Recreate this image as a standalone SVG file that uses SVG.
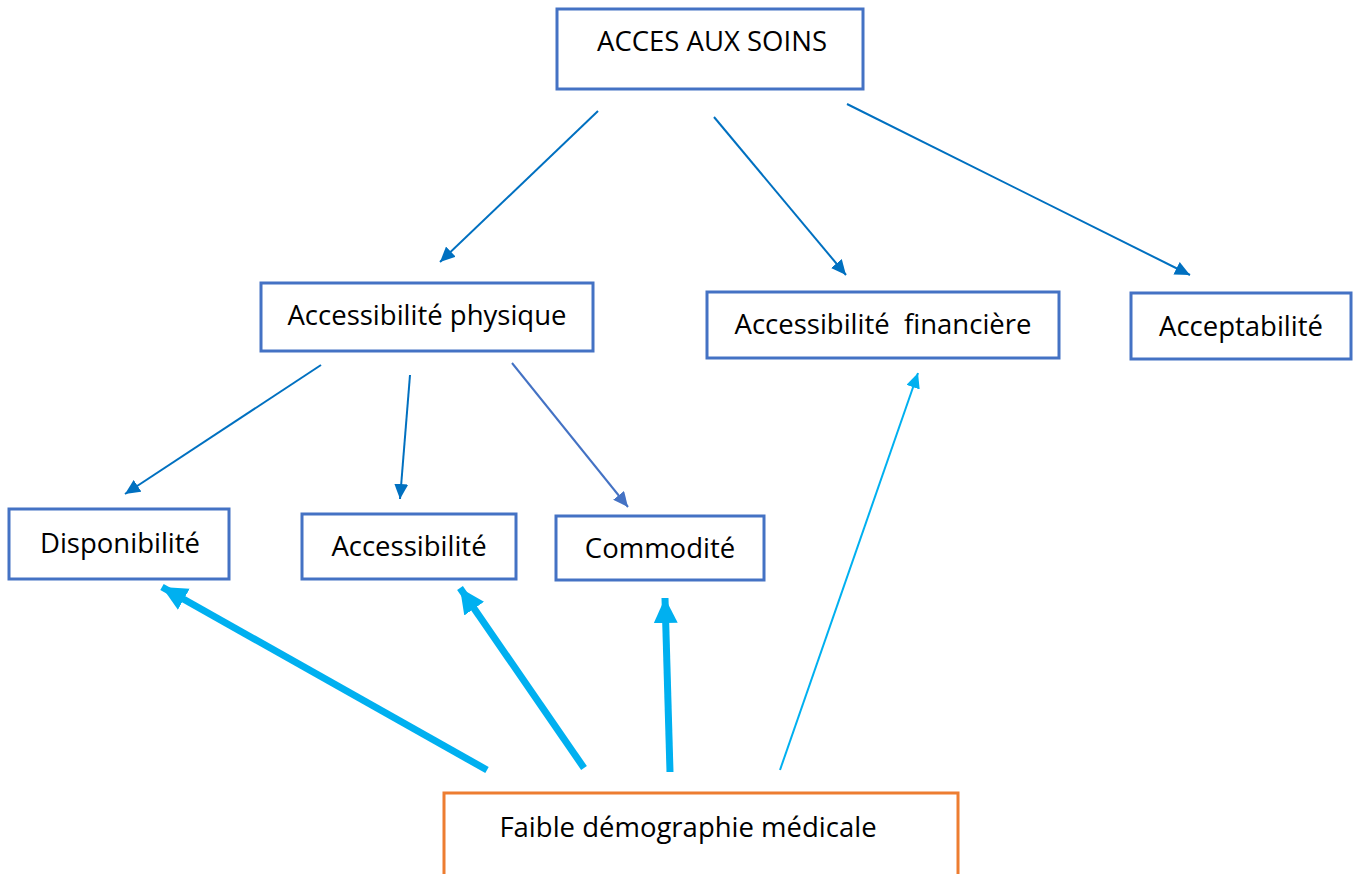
<svg xmlns="http://www.w3.org/2000/svg" width="1353" height="874" viewBox="0 0 1353 874">
<style>
.box{fill:#fff;stroke:#4472C4;stroke-width:3}
.org{fill:#fff;stroke:#ED7D31;stroke-width:3}
.t{font-family:"Open Sans","Liberation Sans",sans-serif;font-size:27.5px;fill:#000;text-anchor:middle}
.dk{stroke:#0070C0;stroke-width:2;fill:none}
.md{stroke:#4472C4;stroke-width:2;fill:none}
.lb{stroke:#00B0F0;fill:none}
</style>
<defs>
<marker id="ad" markerUnits="userSpaceOnUse" markerWidth="16" markerHeight="14" refX="15" refY="7" orient="auto"><path d="M0,0 L15,7 L0,14 z" fill="#0070C0"/></marker>
<marker id="am" markerUnits="userSpaceOnUse" markerWidth="16" markerHeight="14" refX="15" refY="7" orient="auto"><path d="M0,0 L15,7 L0,14 z" fill="#4472C4"/></marker>
<marker id="al" markerUnits="userSpaceOnUse" markerWidth="26" markerHeight="26" refX="25" refY="13" orient="auto"><path d="M0,1 L25,13 L0,25 z" fill="#00B0F0"/></marker>
<marker id="als" markerUnits="userSpaceOnUse" markerWidth="16" markerHeight="14" refX="15" refY="7" orient="auto"><path d="M0,0 L15,7 L0,14 z" fill="#00B0F0"/></marker>
</defs>
<g id="connectors">
<line class="dk" x1="598" y1="111" x2="440" y2="262" marker-end="url(#ad)"/>
<line class="dk" x1="714" y1="117" x2="846" y2="275" marker-end="url(#ad)"/>
<line class="dk" x1="847" y1="104" x2="1190" y2="275" marker-end="url(#ad)"/>
<line class="dk" x1="321" y1="365" x2="125" y2="494" marker-end="url(#ad)"/>
<line class="dk" x1="410" y1="375" x2="400" y2="499" marker-end="url(#ad)"/>
<line class="md" x1="512" y1="363" x2="628" y2="507" marker-end="url(#am)"/>
<line class="lb" stroke-width="7" x1="487" y1="770" x2="162" y2="587" marker-end="url(#al)"/>
<line class="lb" stroke-width="7" x1="584" y1="768" x2="460" y2="588" marker-end="url(#al)"/>
<line class="lb" stroke-width="7" x1="670" y1="772" x2="665" y2="598" marker-end="url(#al)"/>
<line class="lb" stroke-width="2" x1="780" y1="770" x2="918" y2="373" marker-end="url(#als)"/>
</g>
<g id="acces"><rect class="box" x="557" y="9" width="306" height="80"/><text class="t" x="712" y="51">ACCES AUX SOINS</text></g>
<g id="physique"><rect class="box" x="261" y="283" width="332" height="68"/><text class="t" x="427" y="325">Accessibilité physique</text></g>
<g id="financiere"><rect class="box" x="707" y="292" width="352" height="66"/><text class="t" x="883" y="334" xml:space="preserve">Accessibilité  financière</text></g>
<g id="acceptabilite"><rect class="box" x="1131" y="293" width="220" height="66"/><text class="t" x="1241" y="336">Acceptabilité</text></g>
<g id="disponibilite"><rect class="box" x="9" y="509" width="220" height="70"/><text class="t" x="120" y="553">Disponibilité</text></g>
<g id="accessibilite"><rect class="box" x="302" y="514" width="214" height="65"/><text class="t" x="409" y="556">Accessibilité</text></g>
<g id="commodite"><rect class="box" x="556" y="516" width="208" height="64"/><text class="t" x="660" y="558">Commodité</text></g>
<g id="faible"><rect class="org" x="444" y="793" width="514" height="84"/><text class="t" x="688" y="837">Faible démographie médicale</text></g>
</svg>
